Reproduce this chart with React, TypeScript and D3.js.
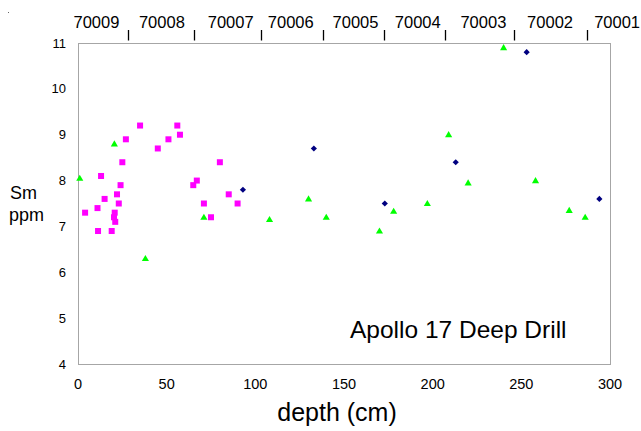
import React from "react";
import * as d3 from "d3";

// Sm concentration (ppm) against depth (cm) in the Apollo 17 deep drill core
const pinkDepth = [35, 56, 57.5, 27, 51, 45, 25, 80, 13, 67, 65, 24, 22, 85, 15, 23, 71, 90, 11, 4, 20.7, 20.3, 75, 21, 11.3, 19];
const pinkSm = [9.2, 9.2, 9.0, 8.9, 8.9, 8.7, 8.4, 8.4, 8.1, 8.0, 7.9, 7.9, 7.7, 7.7, 7.6, 7.5, 7.5, 7.5, 7.4, 7.3, 7.3, 7.2, 7.2, 7.1, 6.9, 6.9];

const greenDepth = [20.5, 1, 71, 38, 108, 130, 140, 170, 178, 240, 209, 220, 258, 197, 277, 286];
const greenSm = [8.8, 8.05, 7.2, 6.3, 7.15, 7.6, 7.2, 6.9, 7.33, 10.9, 9.0, 7.95, 8.0, 7.5, 7.35, 7.2];

const navyDepth = [93, 133, 173, 253, 213, 294];
const navySm = [7.8, 8.7, 7.5, 10.8, 8.4, 7.6];

// core section boundaries and section names along the top
const sectionBounds = [28.4, 65.5, 103, 138, 172.7, 206.8, 245.9, 287.2];
const sectionNames = ["70009", "70008", "70007", "70006", "70005", "70004", "70003", "70002", "70001"];
const sectionLabelDepth = [10.4, 47.3, 86.1, 120, 156.5, 191.6, 228.6, 266.2, 304];

const xTicks = [0, 50, 100, 150, 200, 250, 300];
const yTicks = [4, 5, 6, 7, 8, 9, 10, 11];

const W = 641;
const H = 431;
const left = 78;
const right = 610;
const top = 43;
const bottom = 364;

const FONT = "'Liberation Sans', Arial, Helvetica, sans-serif";

export default function App() {
  const x = d3.scaleLinear().domain([0, 300]).range([left, right]);
  const y = d3.scaleLinear().domain([4, 11]).range([bottom, top]);

  const tri = d3.symbol().type(d3.symbolTriangle).size(22)();
  const diamond = d3.symbol().type(d3.symbolSquare).size(19)();

  return (
    <div style={{ position: "fixed", left: 0, top: 0, width: W, height: H, background: "#fff" }}>
      <svg width={W} height={H} style={{ display: "block" }} fontFamily={FONT}>
        <rect width={W} height={H} fill="#fff" />
        <rect x={8} y={12} width={1} height={1} fill="#666" />

        {/* plot frame */}
        <rect
          x={left + 0.5}
          y={top + 0.5}
          width={right - left}
          height={bottom - top}
          fill="none"
          stroke="#a6a6a6"
          strokeWidth={1}
        />

        {/* top: core section boundaries and names */}
        {sectionBounds.map((d, i) => (
          <line
            key={"b" + i}
            x1={Math.round(x(d)) + 0.5}
            x2={Math.round(x(d)) + 0.5}
            y1={30}
            y2={40.5}
            stroke="#000"
            strokeWidth={1.3}
          />
        ))}
        {sectionNames.map((s, i) => (
          <text
            key={"s" + i}
            x={x(sectionLabelDepth[i])}
            y={28}
            textAnchor="middle"
            fontSize={16.5}
            fill="#000"
          >
            {s}
          </text>
        ))}

        {/* y tick labels */}
        {yTicks.map((t) => (
          <text key={"y" + t} x={66} y={y(t)} dy="0.35em" textAnchor="end" fontSize={13} fill="#000">
            {t}
          </text>
        ))}

        {/* x tick labels */}
        {xTicks.map((t) => (
          <text key={"x" + t} x={x(t)} y={389} textAnchor="middle" fontSize={14.5} fill="#000">
            {t}
          </text>
        ))}

        {/* axis titles */}
        <text x={10} y={199} fontSize={18} fill="#000">Sm</text>
        <text x={9} y={221} fontSize={18} fill="#000">ppm</text>
        <text x={337} y={421} textAnchor="middle" fontSize={25} fill="#000">depth (cm)</text>

        <text x={350} y={337.5} fontSize={24.5} fill="#000">Apollo 17 Deep Drill</text>

        {/* series */}
        {pinkDepth.map((d, i) => (
          <rect
            key={"p" + i}
            x={x(d) - 3}
            y={y(pinkSm[i]) - 3}
            width={6}
            height={6}
            fill="#ff00ff"
          />
        ))}
        {greenDepth.map((d, i) => (
          <path
            key={"g" + i}
            d={tri as string}
            transform={`translate(${x(d)},${y(greenSm[i]) + 0.5})`}
            fill="#00ff00"
          />
        ))}
        {navyDepth.map((d, i) => (
          <path
            key={"n" + i}
            d={diamond as string}
            transform={`translate(${x(d)},${y(navySm[i])}) rotate(45)`}
            fill="#000080"
          />
        ))}
      </svg>
    </div>
  );
}
